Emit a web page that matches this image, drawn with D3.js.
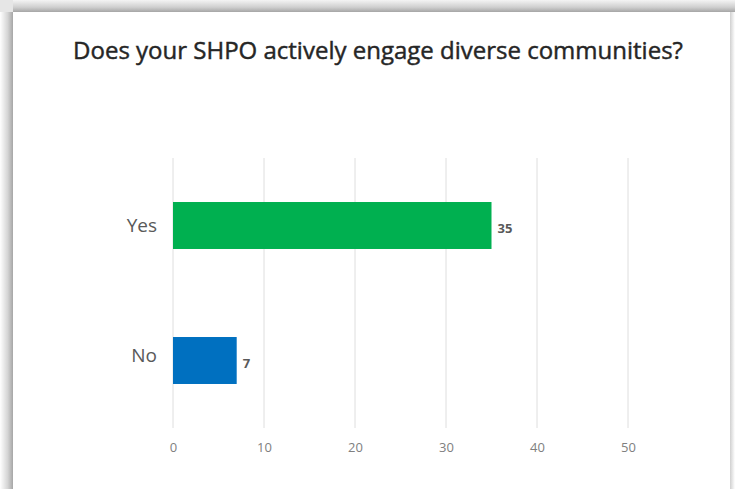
<!DOCTYPE html>
<html>
<head>
<meta charset="utf-8">
<script src="https://cdn.jsdelivr.net/npm/d3@7"></script>
<style>
  html, body { margin: 0; padding: 0; background: #ffffff; }
  svg { display: block; }
</style>
</head>
<body>
<svg id="chart" width="735" height="489"></svg>
<script>
// Survey responses
const categories = ["Yes", "No"];
const responses = [35, 7];
const barColors = ["#00b050", "#0070c0"];
const tickValues = [0, 10, 20, 30, 40, 50];
const chartTitle = "Does your SHPO actively engage diverse communities?";

const W = 735, H = 489;
const svg = d3.select("#chart");

// Card with a soft shadow on its top and left edges
const defs = svg.append("defs");
const gLeft = defs.append("linearGradient").attr("id", "shadeLeft")
  .attr("x1", "0").attr("x2", "1").attr("y1", "0").attr("y2", "0");
gLeft.append("stop").attr("offset", "0").attr("stop-color", "#ffffff");
gLeft.append("stop").attr("offset", "0.6").attr("stop-color", "#d4d4d4");
gLeft.append("stop").attr("offset", "1").attr("stop-color", "#a6a6a6");
const gTop = defs.append("linearGradient").attr("id", "shadeTop")
  .attr("x1", "0").attr("x2", "0").attr("y1", "0").attr("y2", "1");
gTop.append("stop").attr("offset", "0").attr("stop-color", "#f4f4f4");
gTop.append("stop").attr("offset", "0.6").attr("stop-color", "#cfcfcf");
gTop.append("stop").attr("offset", "1").attr("stop-color", "#a6a6a6");
const gRight = defs.append("linearGradient").attr("id", "shadeRight")
  .attr("x1", "0").attr("x2", "1").attr("y1", "0").attr("y2", "0");
gRight.append("stop").attr("offset", "0").attr("stop-color", "#d0d0d0");
gRight.append("stop").attr("offset", "1").attr("stop-color", "#ffffff");

const card = { x: 13, y: 12, r: 730 };
svg.append("rect").attr("x", 0).attr("y", 0).attr("width", W).attr("height", H).attr("fill", "#ffffff");
svg.append("rect").attr("x", 0).attr("y", card.y).attr("width", card.x).attr("height", H - card.y).attr("fill", "url(#shadeLeft)");
svg.append("rect").attr("x", card.x).attr("y", 0).attr("width", W - card.x).attr("height", card.y).attr("fill", "url(#shadeTop)");
svg.append("rect").attr("x", 0).attr("y", 0).attr("width", card.x).attr("height", card.y).attr("fill", "#e6e6e6");
svg.append("rect").attr("x", card.r).attr("y", card.y).attr("width", W - card.r).attr("height", H - card.y).attr("fill", "url(#shadeRight)");

// Scales
const x = d3.scaleLinear().domain([0, 50]).range([173, 628]);
const y = d3.scaleBand().domain(categories).range([158, 428])
  .paddingInner(0.652).paddingOuter(0.326);

// Vertical gridlines
svg.append("g")
  .selectAll("line")
  .data(tickValues)
  .join("line")
  .attr("x1", d => x(d)).attr("x2", d => x(d))
  .attr("y1", 158).attr("y2", 428)
  .attr("stroke", "#dedede").attr("stroke-width", 1);

// Bottom axis labels
const xAxis = d3.axisBottom(x).tickValues(tickValues).tickSize(0).tickPadding(0);
const axisG = svg.append("g").attr("transform", "translate(0,443)").call(xAxis);
axisG.select(".domain").remove();
axisG.selectAll("text")
  .attr("font-family", "'Open Sans', sans-serif")
  .attr("font-size", 13)
  .attr("fill", "#808080");

// Category labels
const yAxis = d3.axisLeft(y).tickSize(0).tickPadding(0);
const yG = svg.append("g").attr("transform", "translate(157,0)").call(yAxis);
yG.select(".domain").remove();
yG.selectAll("text")
  .attr("font-family", "'Open Sans', sans-serif")
  .attr("font-size", 19)
  .attr("fill", "#595959");
yG.selectAll(".tick text").filter(d => d === "No").attr("dy", "0.1em");

// Bars
const rows = categories.map((c, i) => ({ cat: c, val: responses[i], color: barColors[i] }));
svg.append("g")
  .selectAll("rect")
  .data(rows)
  .join("rect")
  .attr("x", x(0))
  .attr("y", d => y(d.cat))
  .attr("width", d => x(d.val) - x(0))
  .attr("height", y.bandwidth())
  .attr("fill", d => d.color);

// Value labels
svg.append("g")
  .selectAll("text")
  .data(rows)
  .join("text")
  .attr("x", d => x(d.val) + 6)
  .attr("y", d => y(d.cat) + y.bandwidth() / 2 + 3)
  .attr("dy", "0.32em")
  .attr("font-family", "'Open Sans', sans-serif")
  .attr("font-size", 13)
  .attr("font-weight", "bold")
  .attr("fill", "#595959")
  .text(d => d.val);

// Title, sized to span its line; a thin stroke gives a medium weight
const title = svg.append("text")
  .attr("x", 378)
  .attr("y", 59)
  .attr("text-anchor", "middle")
  .attr("font-family", "'Open Sans', sans-serif")
  .attr("font-size", 20)
  .attr("fill", "#262626")
  .attr("stroke", "#262626")
  .attr("stroke-width", 0.45)
  .text(chartTitle);
const tw = title.node().getComputedTextLength();
title.attr("font-size", 20 * 610 / tw);
</script>
</body>
</html>
